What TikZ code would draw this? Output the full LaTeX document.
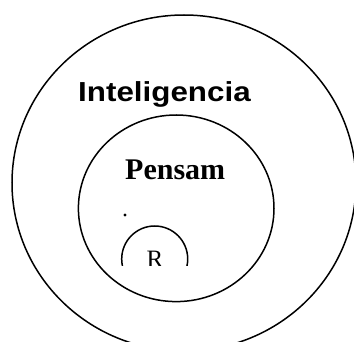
\documentclass[tikz,border=0pt]{standalone}
\usepackage{fontspec}
\setmainfont{Liberation Serif}
\newfontfamily\arialfont{Liberation Sans}
\usetikzlibrary{positioning}

\begin{document}
\begin{tikzpicture}[
    x=1pt, y=-1pt,
    ring/.style={draw, line width=1.5pt},
    title/.style={inner sep=0pt, anchor=base west},
]
\useasboundingbox (0,0) rectangle (354,342);

% === outer ring: Inteligencia ===
\draw[ring] (184,183) ellipse [x radius=172, y radius=168];
\node[title, font=\arialfont\bfseries\fontsize{27.5}{30}\selectfont] (intel) at (78,101.7) {\scalebox{1.14}[1]{Inteligencia}};

% === middle ring: Pensam ===
\draw[ring] (176.2,208.3) ellipse [x radius=97.8, y radius=93.3];
\node[title, font=\bfseries\fontsize{30}{32}\selectfont] (pensam) at (125,180) {Pensam};
\fill (125,215) circle [radius=1.6pt];

% === inner ring: R (cut off at the bottom) ===
\begin{scope}
\clip (100,200) rectangle (220,266);
\draw[ring] (154.7,259) circle [radius=33];
\node[inner sep=0pt, anchor=base, font=\fontsize{25}{27}\selectfont] (r) at (155,267.5) {R};
\end{scope}

\end{tikzpicture}
\end{document}
